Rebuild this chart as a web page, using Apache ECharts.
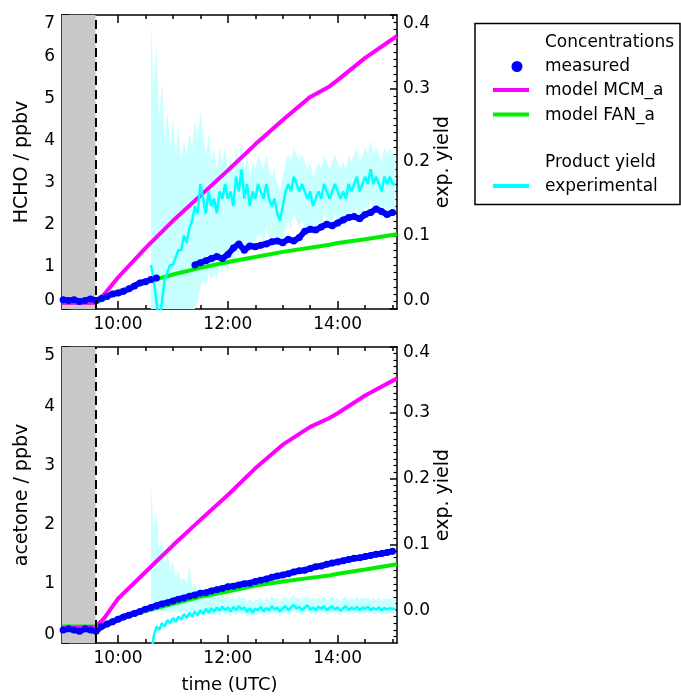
<!DOCTYPE html>
<html><head><meta charset="utf-8">
<script src="https://cdn.jsdelivr.net/npm/echarts@6.0.0/dist/echarts.min.js"></script>
<style>html,body{margin:0;padding:0;background:#fff}#c{width:681px;height:698px}</style>
</head><body><div id="c"></div>
<script>
// ---------------- data ----------------
const xMin = 8.98, xMax = 15.08;
const startTime = 9.59;
const xMajorTicks = [10, 12, 14];
const xMinorTicks = [9, 9.5, 10.5, 11, 11.5, 12.5, 13, 13.5, 14.5, 15];
const yieldTicks = [0, 0.1, 0.2, 0.3, 0.4];

const modelTime = [8.98, 9.59, 9.75, 10.0, 10.5, 11.0, 11.5, 12.0, 12.5, 13.0, 13.5, 13.85, 14.0, 14.5, 15.08];
const hchoMCM   = [0.15, 0.15, 0.35, 0.75, 1.45, 2.1, 2.7, 3.3, 3.92, 4.5, 5.05, 5.3, 5.45, 5.98, 6.5];
const hchoFAN   = [0.15, 0.15, 0.24, 0.42, 0.64, 0.82, 0.98, 1.12, 1.24, 1.36, 1.46, 1.53, 1.57, 1.66, 1.78];
const acetMCM   = [0.25, 0.27, 0.42, 0.75, 1.2, 1.65, 2.08, 2.5, 2.95, 3.35, 3.65, 3.8, 3.88, 4.18, 4.47];
const acetFAN   = [0.28, 0.28, 0.32, 0.4, 0.54, 0.66, 0.78, 0.87, 0.97, 1.04, 1.1, 1.14, 1.17, 1.24, 1.33];

const measTime = [
  9.0, 9.1, 9.2, 9.3, 9.4, 9.5, 9.6, 9.7, 9.8, 9.9,
  10.0, 10.1, 10.2, 10.3, 10.4, 10.5, 10.6, 10.7, 10.8, 10.9,
  11.0, 11.1, 11.2, 11.3, 11.4, 11.5, 11.6, 11.7, 11.8, 11.9,
  12.0, 12.1, 12.2, 12.3, 12.4, 12.5, 12.6, 12.7, 12.8, 12.9,
  13.0, 13.1, 13.2, 13.3, 13.4, 13.5, 13.6, 13.7, 13.8, 13.9,
  14.0, 14.1, 14.2, 14.3, 14.4, 14.5, 14.6, 14.7, 14.8, 14.9,
  15.0];
const hchoMeas = [
  0.22, 0.20, 0.22, 0.18, 0.20, 0.24, 0.20, 0.25, 0.30, 0.36,
  0.38, 0.42, 0.48, 0.55, 0.62, 0.65, 0.70, 0.74, null, null,
  null, null, null, null, 1.05, 1.10, 1.15, 1.20, 1.25, 1.20,
  1.30, 1.45, 1.55, 1.40, 1.50, 1.48, 1.52, 1.55, 1.60, 1.62,
  1.58, 1.66, 1.62, 1.70, 1.85, 1.90, 1.88, 1.95, 2.02, 1.98,
  2.05, 2.12, 2.18, 2.20, 2.15, 2.25, 2.30, 2.38, 2.32, 2.25,
  2.30];
const acetMeas = [
  0.22, 0.24, 0.22, 0.20, 0.24, 0.22, 0.20, 0.28, 0.32, 0.36,
  0.40, 0.44, 0.47, 0.50, 0.53, 0.57, 0.60, 0.63, 0.66, 0.68,
  0.71, 0.74, 0.76, 0.79, 0.81, 0.84, 0.85, 0.88, 0.90, 0.92,
  0.95, 0.96, 0.98, 1.00, 1.01, 1.04, 1.06, 1.08, 1.11, 1.13,
  1.15, 1.17, 1.20, 1.22, 1.23, 1.26, 1.29, 1.30, 1.33, 1.35,
  1.37, 1.39, 1.41, 1.43, 1.44, 1.46, 1.48, 1.50, 1.51, 1.53,
  1.55];

const yieldTime = [
  10.60, 10.65, 10.70, 10.75, 10.80, 10.85, 10.90, 10.95, 11.00, 11.05,
  11.10, 11.15, 11.20, 11.25, 11.30, 11.35, 11.40, 11.45, 11.50, 11.55,
  11.60, 11.65, 11.70, 11.75, 11.80, 11.85, 11.90, 11.95, 12.00, 12.05,
  12.10, 12.15, 12.20, 12.25, 12.30, 12.35, 12.40, 12.45, 12.50, 12.55,
  12.60, 12.65, 12.70, 12.75, 12.80, 12.85, 12.90, 12.95, 13.00, 13.05,
  13.10, 13.15, 13.20, 13.25, 13.30, 13.35, 13.40, 13.45, 13.50, 13.55,
  13.60, 13.65, 13.70, 13.75, 13.80, 13.85, 13.90, 13.95, 14.00, 14.05,
  14.10, 14.15, 14.20, 14.25, 14.30, 14.35, 14.40, 14.45, 14.50, 14.55,
  14.60, 14.65, 14.70, 14.75, 14.80, 14.85, 14.90, 14.95, 15.00, 15.05];
const hchoYield = [
  0.06, 0.04, 0.01, -0.02, 0.01, 0.04, 0.05, 0.06, 0.06, 0.07,
  0.08, 0.08, 0.10, 0.09, 0.11, 0.12, 0.14, 0.13, 0.17, 0.15,
  0.13, 0.16, 0.14, 0.15, 0.13, 0.16, 0.15, 0.17, 0.15, 0.16,
  0.14, 0.18, 0.16, 0.19, 0.15, 0.17, 0.14, 0.16, 0.15, 0.17,
  0.16, 0.15, 0.17, 0.15, 0.14, 0.15, 0.13, 0.12, 0.14, 0.16,
  0.17, 0.16, 0.18, 0.17, 0.16, 0.17, 0.16, 0.15, 0.16, 0.14,
  0.15, 0.16, 0.15, 0.17, 0.16, 0.15, 0.16, 0.17, 0.16, 0.15,
  0.16, 0.15, 0.17, 0.16, 0.17, 0.18, 0.16, 0.17, 0.18, 0.17,
  0.19, 0.17, 0.18, 0.17, 0.16, 0.18, 0.17, 0.18, 0.17, 0.17];
const hchoYieldHigh = [
  0.39, 0.30, 0.36, 0.26, 0.31, 0.23, 0.27, 0.22, 0.26, 0.21,
  0.25, 0.20, 0.23, 0.21, 0.24, 0.22, 0.26, 0.23, 0.27, 0.24,
  0.21, 0.24, 0.20, 0.22, 0.19, 0.22, 0.20, 0.22, 0.19, 0.21,
  0.18, 0.22, 0.20, 0.23, 0.19, 0.21, 0.18, 0.20, 0.19, 0.21,
  0.20, 0.19, 0.21, 0.19, 0.18, 0.19, 0.17, 0.16, 0.18, 0.20,
  0.21, 0.20, 0.22, 0.21, 0.20, 0.21, 0.20, 0.19, 0.20, 0.18,
  0.19, 0.20, 0.19, 0.21, 0.20, 0.19, 0.20, 0.21, 0.20, 0.19,
  0.20, 0.19, 0.21, 0.20, 0.21, 0.22, 0.20, 0.21, 0.22, 0.21,
  0.23, 0.21, 0.22, 0.21, 0.20, 0.22, 0.21, 0.22, 0.21, 0.21];
const hchoYieldLow = [
  0, 0, 0, 0, 0, 0, 0, 0, 0, 0,
  0, 0, 0, 0, 0, 0, 0, 0.01, 0.03, 0.04,
  0.03, 0.05, 0.04, 0.05, 0.04, 0.06, 0.05, 0.06, 0.05, 0.07,
  0.06, 0.08, 0.07, 0.09, 0.07, 0.09, 0.08, 0.09, 0.09, 0.10,
  0.10, 0.09, 0.11, 0.10, 0.09, 0.10, 0.09, 0.08, 0.09, 0.11,
  0.12, 0.11, 0.13, 0.12, 0.11, 0.12, 0.11, 0.10, 0.11, 0.10,
  0.11, 0.12, 0.11, 0.13, 0.12, 0.11, 0.12, 0.13, 0.12, 0.11,
  0.12, 0.11, 0.13, 0.12, 0.13, 0.14, 0.12, 0.13, 0.14, 0.13,
  0.15, 0.13, 0.14, 0.13, 0.12, 0.14, 0.13, 0.14, 0.13, 0.13];

const acetYield = [
  -0.07, -0.04, -0.025, -0.03, -0.02, -0.025, -0.015, -0.02, -0.012, -0.018,
  -0.01, -0.014, -0.006, -0.012, -0.004, -0.01, -0.002, -0.008, 0.0, -0.006,
  0.002, -0.004, 0.003, -0.002, 0.004, -0.001, 0.005, 0.0, 0.004, -0.002,
  0.005, 0.0, 0.006, 0.001, 0.004, -0.003, 0.003, -0.004, 0.002, 0.0,
  0.005, -0.002, 0.003, 0.0, 0.006, 0.001, 0.004, -0.002, 0.003, 0.006,
  0.0, 0.004, 0.008, 0.002, 0.005, 0.0, 0.004, 0.007, 0.001, 0.004,
  0.0, 0.005, 0.002, 0.006, 0.0, 0.003, 0.006, 0.001, 0.004, -0.001,
  0.003, 0.006, 0.0, 0.004, 0.001, 0.005, 0.0, 0.004, 0.002, 0.005,
  0.0, 0.003, 0.001, 0.004, 0.0, 0.003, 0.001, 0.003, 0.002, 0.002];
const acetYieldHigh = [
  0.19, 0.12, 0.15, 0.09, 0.11, 0.07, 0.09, 0.06, 0.075, 0.05,
  0.06, 0.045, 0.05, 0.04, 0.07, 0.035, 0.04, 0.03, 0.035, 0.025,
  0.03, 0.02, 0.028, 0.02, 0.025, 0.018, 0.024, 0.018, 0.022, 0.016,
  0.02, 0.015, 0.022, 0.016, 0.02, 0.012, 0.018, 0.012, 0.016, 0.015,
  0.02, 0.013, 0.018, 0.015, 0.022, 0.016, 0.019, 0.013, 0.018, 0.022,
  0.015, 0.019, 0.024, 0.017, 0.02, 0.015, 0.019, 0.022, 0.016, 0.019,
  0.015, 0.02, 0.017, 0.021, 0.015, 0.018, 0.021, 0.016, 0.019, 0.014,
  0.018, 0.021, 0.015, 0.019, 0.016, 0.02, 0.015, 0.019, 0.017, 0.02,
  0.015, 0.018, 0.016, 0.019, 0.015, 0.018, 0.016, 0.018, 0.017, 0.017];
const acetYieldLow = [
  -0.002, -0.002, -0.002, -0.002, -0.002, -0.002, -0.002, -0.002, -0.002, -0.002,
  -0.002, -0.002, -0.002, -0.002, -0.002, -0.002, -0.002, -0.002, -0.002, -0.002,
  -0.004, -0.008, -0.004, -0.01, -0.004, -0.01, -0.003, -0.008, -0.004, -0.01,
  -0.003, -0.008, -0.002, -0.007, -0.004, -0.01, -0.005, -0.012, -0.006, -0.008,
  -0.003, -0.01, -0.005, -0.008, -0.002, -0.007, -0.004, -0.01, -0.005, -0.002,
  -0.008, -0.004, 0.0, -0.006, -0.003, -0.008, -0.004, -0.001, -0.007, -0.004,
  -0.008, -0.003, -0.006, -0.002, -0.008, -0.005, -0.002, -0.007, -0.004, -0.009,
  -0.005, -0.002, -0.008, -0.004, -0.007, -0.003, -0.008, -0.004, -0.006, -0.003,
  -0.008, -0.005, -0.007, -0.004, -0.008, -0.005, -0.007, -0.005, -0.006, -0.006];

// ---------------- styling helpers ----------------
const BLACK = '#000';
const FONT = 'DejaVu Sans';
const pairs = (xs, ys) => xs.map((x, i) => [x, ys[i]]);
const timeFmt = v => { const h = Math.floor(v + 1e-9); const m = Math.round((v - h) * 60); return h + ':' + String(m).padStart(2, '0'); };

function xAxes(g, withLabels, withName) {
  const base = { gridIndex: g, type: 'value', min: xMin, max: xMax, splitLine: { show: false } };
  return [
    Object.assign({}, base, {
      position: 'bottom', offset: 0,
      axisLine: { show: true, onZero: false, lineStyle: { color: BLACK, width: 1.5 } },
      axisTick: { show: true, inside: true, length: 8, customValues: xMajorTicks, lineStyle: { color: BLACK, width: 1.5 } },
      axisLabel: { show: withLabels, customValues: xMajorTicks, formatter: timeFmt, color: BLACK, fontSize: 17, fontFamily: FONT, margin: 7 },
      name: withName ? 'time (UTC)' : '', nameLocation: 'middle', nameGap: 33,
      nameTextStyle: { color: BLACK, fontSize: 18, fontFamily: FONT }
    }),
    Object.assign({}, base, {
      position: 'bottom', offset: 0,
      axisLine: { show: false, onZero: false },
      axisTick: { show: true, inside: true, length: 4, customValues: xMinorTicks, lineStyle: { color: BLACK, width: 1.5 } },
      axisLabel: { show: false }
    }),
    Object.assign({}, base, {
      position: 'top', offset: 0,
      axisLine: { show: true, onZero: false, lineStyle: { color: BLACK, width: 1.5 } },
      axisTick: { show: true, inside: true, length: 8, customValues: xMajorTicks, lineStyle: { color: BLACK, width: 1.5 } },
      axisLabel: { show: false }
    }),
    Object.assign({}, base, {
      position: 'top', offset: 0,
      axisLine: { show: false, onZero: false },
      axisTick: { show: true, inside: true, length: 4, customValues: xMinorTicks, lineStyle: { color: BLACK, width: 1.5 } },
      axisLabel: { show: false }
    })
  ];
}

const labelStyle = { color: BLACK, fontSize: 17, fontFamily: FONT };
const nameStyle = { color: BLACK, fontSize: 19, fontFamily: FONT };
function leftAxis(g, max, name) {
  return {
    gridIndex: g, type: 'value', position: 'left', min: 0, max: max, interval: 1,
    axisLine: { show: true, onZero: false, lineStyle: { color: BLACK, width: 1.5 } },
    axisTick: { show: true, inside: true, length: 7, lineStyle: { color: BLACK, width: 1.5 } },
    minorTick: { show: true, splitNumber: 10, length: 3.5, lineStyle: { color: BLACK, width: 1.2 } },
    axisLabel: Object.assign({ margin: 7, verticalAlignMinLabel: 'bottom', verticalAlignMaxLabel: 'top' }, labelStyle),
    splitLine: { show: false },
    name: name, nameLocation: 'middle', nameGap: 30, nameRotate: 90, nameTextStyle: nameStyle
  };
}

const yieldMinor = [];
for (let k = -4; k <= 39; k++) { if (k % 10 !== 0) yieldMinor.push(k / 100); }

const option = {
  animation: false,
  backgroundColor: '#fff',
  grid: [
    { left: 62, width: 335, top: 15, height: 294 },
    { left: 62, width: 335, top: 347, height: 296 }
  ],
  xAxis: [].concat(xAxes(0, true, false), xAxes(1, true, true)),
  yAxis: [
    leftAxis(0, 7, 'HCHO / ppbv'),
    {
      gridIndex: 0, type: 'value', position: 'right', min: 0, max: 0.4, interval: 0.1,
      axisLine: { show: true, onZero: false, lineStyle: { color: BLACK, width: 1.5 } },
      axisTick: { show: true, inside: true, length: 7, lineStyle: { color: BLACK, width: 1.5 } },
      minorTick: { show: true, splitNumber: 10, length: 3.5, lineStyle: { color: BLACK, width: 1.2 } },
      axisLabel: Object.assign({ margin: 6, formatter: v => v.toFixed(1), verticalAlignMinLabel: 'bottom', verticalAlignMaxLabel: 'top' }, labelStyle),
      splitLine: { show: false },
      name: 'exp. yield', nameLocation: 'middle', nameGap: 29, nameRotate: 90, nameTextStyle: nameStyle
    },
    leftAxis(1, 5, 'acetone / ppbv'),
    {
      gridIndex: 1, type: 'value', position: 'right', min: -0.05, max: 0.4,
      axisLine: { show: true, onZero: false, lineStyle: { color: BLACK, width: 1.5 } },
      axisTick: { show: true, inside: true, length: 7, customValues: yieldTicks, lineStyle: { color: BLACK, width: 1.5 } },
      axisLabel: Object.assign({ margin: 6, customValues: yieldTicks,
        formatter: v => v > 0.399 ? '{t|' + v.toFixed(1) + '}' : v.toFixed(1),
        rich: { t: { fontSize: 17, fontFamily: FONT, color: BLACK, padding: [12, 0, 0, 0] } } }, labelStyle),
      splitLine: { show: false },
      name: 'exp. yield', nameLocation: 'middle', nameGap: 29, nameRotate: 90, nameTextStyle: nameStyle
    },
    {
      gridIndex: 1, type: 'value', position: 'right', offset: 0, min: -0.05, max: 0.4,
      axisLine: { show: false, onZero: false },
      axisTick: { show: true, inside: true, length: 3.5, customValues: yieldMinor, lineStyle: { color: BLACK, width: 1.2 } },
      axisLabel: { show: false }, splitLine: { show: false }
    }
  ],
  series: [],
  graphic: []
};

function bandSeries(xi, yi, lo, hi) {
  return {
    type: 'custom', xAxisIndex: xi, yAxisIndex: yi, silent: true, clip: true,
    data: pairs(yieldTime, hi),
    encode: { x: 0, y: 1 },
    renderItem: function (params, api) {
      if (params.dataIndex !== 0) return null;
      const pts = [];
      for (let i = 0; i < yieldTime.length; i++) pts.push(api.coord([yieldTime[i], hi[i]]));
      for (let i = yieldTime.length - 1; i >= 0; i--) pts.push(api.coord([yieldTime[i], lo[i]]));
      const cs = params.coordSys;
      return {
        type: 'polygon', shape: { points: pts }, style: { fill: '#c8ffff', stroke: null },
        clipPath: { type: 'rect', shape: { x: cs.x, y: cs.y, width: cs.width, height: cs.height } }
      };
    }
  };
}

function panel(xi, yL, yR, meas, mcm, fan, yld, lo, hi) {
  const s = [];
  s.push({
    type: 'line', xAxisIndex: xi, yAxisIndex: yL, data: [[xMin, null]], showSymbol: false, silent: true,
    markArea: { silent: true, itemStyle: { color: '#c8c8c8' }, data: [[{ xAxis: xMin }, { xAxis: startTime }]] },
    markLine: { silent: true, symbol: ['none', 'none'], label: { show: false },
      lineStyle: { color: BLACK, width: 2, type: [9, 5] }, data: [{ xAxis: startTime }] }
  });
  s.push(bandSeries(xi, yR, lo, hi));
  s.push({ type: 'line', xAxisIndex: xi, yAxisIndex: yL, data: pairs(measTime, meas), connectNulls: false,
    symbol: 'circle', symbolSize: 7, showSymbol: true, itemStyle: { color: '#0000ff' },
    lineStyle: { color: '#0000ff', width: 6 } });
  s.push({ type: 'line', xAxisIndex: xi, yAxisIndex: yL, data: pairs(modelTime, fan), showSymbol: false, symbol: 'none',
    lineStyle: { color: '#00ee00', width: 4 } });
  s.push({ type: 'line', xAxisIndex: xi, yAxisIndex: yL, data: pairs(modelTime, mcm), showSymbol: false, symbol: 'none',
    lineStyle: { color: '#ff00ff', width: 4 } });
  s.push({ type: 'line', xAxisIndex: xi, yAxisIndex: yR, data: pairs(yieldTime, yld), showSymbol: false, symbol: 'none',
    lineStyle: { color: '#00ffff', width: 2.5 } });
  return s;
}

option.series = [].concat(
  panel(0, 0, 1, hchoMeas, hchoMCM, hchoFAN, hchoYield, hchoYieldLow, hchoYieldHigh),
  panel(4, 2, 3, acetMeas, acetMCM, acetFAN, acetYield, acetYieldLow, acetYieldHigh)
);

const legendFont = { fontSize: 17, fontFamily: FONT, fill: BLACK, verticalAlign: 'middle', align: 'left' };
option.graphic = [
  { type: 'rect', shape: { x: 475, y: 23.5, width: 205, height: 181 }, style: { fill: 'none', stroke: BLACK, lineWidth: 1.5 } },
  { type: 'text', x: 545, y: 43, style: Object.assign({ text: 'Concentrations' }, legendFont) },
  { type: 'circle', shape: { cx: 517, cy: 66.5, r: 5.5 }, style: { fill: '#0000ff' } },
  { type: 'text', x: 545, y: 67, style: Object.assign({ text: 'measured' }, legendFont) },
  { type: 'line', shape: { x1: 493, y1: 90, x2: 529, y2: 90 }, style: { stroke: '#ff00ff', lineWidth: 4 } },
  { type: 'text', x: 545, y: 91, style: Object.assign({ text: 'model MCM_a' }, legendFont) },
  { type: 'line', shape: { x1: 493, y1: 114.5, x2: 529, y2: 114.5 }, style: { stroke: '#00ee00', lineWidth: 4 } },
  { type: 'text', x: 545, y: 115.5, style: Object.assign({ text: 'model FAN_a' }, legendFont) },
  { type: 'text', x: 545, y: 163, style: Object.assign({ text: 'Product yield' }, legendFont) },
  { type: 'line', shape: { x1: 493, y1: 186, x2: 529, y2: 186 }, style: { stroke: '#00ffff', lineWidth: 4 } },
  { type: 'text', x: 545, y: 187, style: Object.assign({ text: 'experimental' }, legendFont) }
];

const chart = echarts.init(document.getElementById('c'), null, { renderer: 'canvas' });
chart.setOption(option);
</script>
</body></html>
